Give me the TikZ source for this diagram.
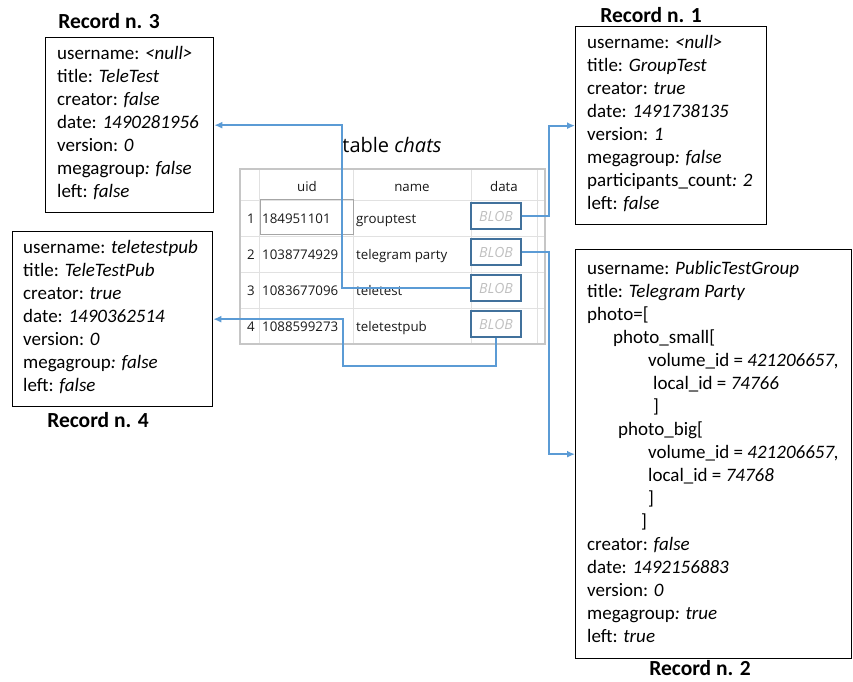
\documentclass[tikz,border=0pt]{standalone}
\usepackage{fontspec}
\setmainfont{Carlito}
\newfontfamily\tablefont{Open Sans}
\usetikzlibrary{arrows.meta}
\definecolor{linkblue}{HTML}{5B9BD5}
\definecolor{blobblue}{HTML}{41719C}
\definecolor{gridgray}{HTML}{E1E1E1}
\definecolor{framegray}{HTML}{C6C6C6}
\tikzset{
  recbox/.style={draw, line width=1.3pt, anchor=north west, inner sep=0pt},
  rectext/.style={anchor=west, align=left, inner sep=0pt, yshift=2pt, font=\fontsize{19}{23}\selectfont},
  rectitle/.style={font=\fontsize{21.5}{25}\selectfont\bfseries},
  cell/.style={inner sep=0pt, text=black!90, font=\tablefont\fontsize{13.3}{16}\selectfont},
  blob/.style={draw=blobblue, line width=1.6pt, minimum width=50pt, minimum height=26pt, inner sep=0pt, text=black!25, font=\tablefont\itshape\fontsize{14}{16}\selectfont},
  link/.style={linkblue, line width=1.8pt},
}
\begin{document}
\begin{tikzpicture}[x=1pt, y=-1pt, >={Latex[length=8pt,width=7pt]}]
\useasboundingbox (0,0) rectangle (853,681);
% records
\node[recbox, minimum width=168pt, minimum height=175pt] (rec3) at (45,37) {};
\node[rectext] (rec3txt) at ([xshift=12pt]rec3.west) {username: \textit{<null>}\\
title: \textit{TeleTest}\\
creator: \textit{false}\\
date: \textit{1490281956}\\
version: \textit{0}\\
megagroup\textit{: false}\\
left: \textit{false}};
\node[rectitle] (title3) at (109,21) {Record n. 3};

\node[recbox, minimum width=191pt, minimum height=198pt] (rec1) at (575,26) {};
\node[rectext] (rec1txt) at ([xshift=12pt]rec1.west) {username: \textit{<null>}\\
title: \textit{GroupTest}\\
creator: \textit{true}\\
date: \textit{1491738135}\\
version: \textit{1}\\
megagroup\textit{: false}\\
participants\_count\textit{: 2}\\
left: \textit{false}};
\node[rectitle] (title1) at (651,15) {Record n. 1};

\node[recbox, minimum width=200pt, minimum height=175pt] (rec4) at (12,231) {};
\node[rectext] (rec4txt) at ([xshift=11pt]rec4.west) {username: \textit{teletestpub}\\
title: \textit{TeleTestPub}\\
creator: \textit{true}\\
date: \textit{1490362514}\\
version: \textit{0}\\
megagroup\textit{: false}\\
left: \textit{false}};
\node[rectitle] (title4) at (98,420) {Record n. 4};

\node[recbox, minimum width=276pt, minimum height=409pt] (rec2) at (575,249) {};
\node[rectext] (rec2txt) at ([xshift=12pt]rec2.west) {username: \textit{PublicTestGroup}\\
title: \textit{Telegram Party}\\
photo=[\\
\hspace*{26pt}photo\_small[\\
\hspace*{61pt}volume\_id = \textit{421206657,}\\
\hspace*{66pt}local\_id = \textit{74766}\\
\hspace*{66pt}]\\
\hspace*{31pt}photo\_big[\\
\hspace*{61pt}volume\_id = \textit{421206657,}\\
\hspace*{61pt}local\_id = \textit{74768}\\
\hspace*{61pt}]\\
\hspace*{54pt}]\\
creator: \textit{false}\\
date: \textit{1492156883}\\
version: \textit{0}\\
megagroup\textit{: true}\\
left: \textit{true}};
\node[rectitle] (title2) at (700,668) {Record n. 2};

% table chats
\node[font=\tablefont\fontsize{20}{24}\selectfont] (tabtitle) at (392,145) {table \textit{chats}};
\draw[framegray, line width=1.2pt] (240,169) rectangle (545,344);
\foreach \x in {259,353,471,537} \draw[gridgray] (\x,170) -- (\x,343);
\foreach \y in {200,236,272,308} \draw[gridgray] (241,\y) -- (544,\y);
\node[cell, anchor=base] (huid) at (307,191) {uid};
\node[cell, anchor=base] (hname) at (412,191) {name};
\node[cell, anchor=base] (hdata) at (504,191) {data};
\draw[black!35] (260,199) rectangle (353,234);
\foreach \uid/\name [count=\i] in {184951101/grouptest, 1038774929/telegram party, 1083677096/teletest, 1088599273/teletestpub} {
  \node[cell, anchor=base] (num\i) at (251,187+36*\i) {\i};
  \node[cell, anchor=base west] (uid\i) at (262,187+36*\i) {\uid};
  \node[cell, anchor=base west] (name\i) at (356,187+36*\i) {\name};
  \node[blob] (blob\i) at (496,180+36*\i) {BLOB};
}

% links
\draw[link, ->] (blob1.east) -- ++(27,0) |- (rec1.west);
\draw[link, ->] (blob2.east) -- ++(27,0) |- (rec2.west);
\draw[link, ->] (blob3.west) -- ++(-128,0) |- (rec3.east);
\draw[link, ->] (blob4.south) -- ++(0,28) -- ++(-153,0) |- (rec4.east);
\end{tikzpicture}
\end{document}
